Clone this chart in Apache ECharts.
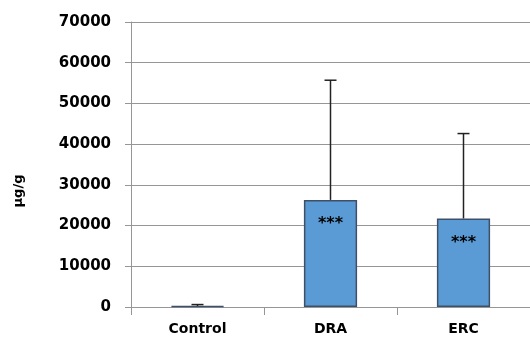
<!DOCTYPE html>
<html>
<head>
<meta charset="utf-8">
<script src="https://cdn.jsdelivr.net/npm/echarts@6/dist/echarts.min.js"></script>
<style>
  html, body { margin: 0; padding: 0; background: #fff; }
  #chart { width: 530px; height: 343px; }
</style>
</head>
<body>
<div id="chart"></div>
<script>
// Concentration per group (mean and upper error), µg/g
const categories = ['Control', 'DRA', 'ERC'];
const means = [250, 26300, 21750];
const errorTops = [600, 55700, 42600];
const significance = ['', '***', '***'];
const yTicks = { min: 0, max: 70000, interval: 10000 };
const yTitle = 'µg/g';

const FONT = 'DejaVu Sans';
const GRID_COLOR = '#969696';

const chart = echarts.init(document.getElementById('chart'));

chart.setOption({
  animation: false,
  backgroundColor: '#ffffff',
  grid: { left: 131, right: 0, top: 22, bottom: 36, containLabel: false },
  graphic: [
    {
      type: 'text',
      x: 19,
      y: 191,
      rotation: Math.PI / 2,
      style: {
        text: yTitle,
        fill: '#000',
        font: 'bold 13px "DejaVu Sans"',
        align: 'center',
        verticalAlign: 'middle'
      }
    }
  ],
  xAxis: {
    type: 'category',
    data: categories,
    axisLine: { lineStyle: { color: GRID_COLOR, width: 1 } },
    axisTick: { show: true, length: 8, lineStyle: { color: GRID_COLOR } },
    axisLabel: { margin: 15, color: '#000', fontFamily: FONT, fontWeight: 'bold', fontSize: 14 }
  },
  yAxis: {
    type: 'value',
    min: yTicks.min,
    max: yTicks.max,
    interval: yTicks.interval,
    axisLine: { show: true, lineStyle: { color: GRID_COLOR, width: 1 } },
    axisTick: { show: true, length: 6, lineStyle: { color: GRID_COLOR } },
    axisLabel: {
      margin: 20,
      color: '#000',
      fontFamily: FONT,
      fontWeight: 'bold',
      fontSize: 15,
      formatter: v => String(v)
    },
    splitLine: { lineStyle: { color: GRID_COLOR, width: 1 } }
  },
  series: [
    {
      type: 'bar',
      data: means,
      barWidth: '40%',
      itemStyle: { color: '#5B9BD5', borderColor: '#3E5068', borderWidth: 1.5 },
      label: {
        show: true,
        position: 'insideTop',
        distance: 16,
        formatter: p => significance[p.dataIndex],
        color: '#000',
        fontFamily: FONT,
        fontWeight: 'bold',
        fontSize: 16
      },
      z: 2
    },
    {
      // upper error bars drawn from each bar top to its error value
      type: 'custom',
      data: categories.map((c, i) => [i, means[i], errorTops[i]]),
      renderItem: (params, api) => {
        const base = api.coord([api.value(0), api.value(1)]);
        const top = api.coord([api.value(0), api.value(2)]);
        const half = 6;
        const style = { stroke: '#222', lineWidth: 1.5 };
        return {
          type: 'group',
          children: [
            { type: 'line', shape: { x1: base[0], y1: base[1], x2: top[0], y2: top[1] }, style },
            { type: 'line', shape: { x1: top[0] - half, y1: top[1], x2: top[0] + half, y2: top[1] }, style }
          ]
        };
      },
      z: 3
    }
  ]
});
</script>
</body>
</html>
